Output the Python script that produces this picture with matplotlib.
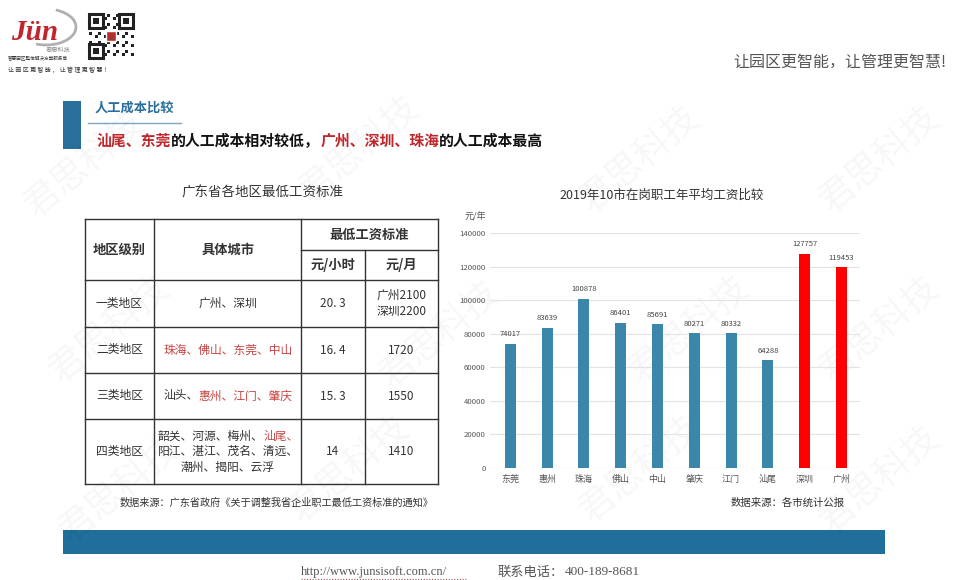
import matplotlib.pyplot as plt
from matplotlib.patches import Rectangle, Arc

plt.rcParams['font.family'] = ['Noto Sans CJK SC', 'DejaVu Sans']

# bar chart data
cities = ['东莞', '惠州', '珠海', '佛山', '中山', '肇庆', '江门', '汕尾', '深圳', '广州']
wages = [74017, 83639, 100878, 86401, 85691, 80271, 80332, 64288, 127757, 119453]
top_cities = ['深圳', '广州']

# table data
levels = ['一类地区', '二类地区', '三类地区', '四类地区']
level_cities = [['广州', '深圳'],
                ['珠海', '佛山', '东莞', '中山'],
                ['汕头', '惠州', '江门', '肇庆'],
                ['韶关', '河源', '梅州', '汕尾', '阳江', '湛江', '茂名', '清远', '潮州', '揭阳', '云浮']]
highlight = {'珠海', '佛山', '东莞', '中山', '惠州', '江门', '肇庆', '汕尾'}
hourly = ['20. 3', '16. 4', '15. 3', '14']
monthly = ['广州2100\n深圳2200', '1720', '1550', '1410']

RED = '#c0272d'
TRED = '#c94444'
BLUE = '#2a6f9c'
TXT = '#333333'

fig = plt.figure(figsize=(9.58, 5.8), dpi=100)
ax0 = fig.add_axes([0, 0, 1, 1])
ax0.set_xlim(0, 958)
ax0.set_ylim(580, 0)
ax0.axis('off')
renderer = fig.canvas.get_renderer()


def text_width(t, size, weight):
    # advance width: measure with a full-width box char after it
    a = ax0.text(0, 0, t + '口', fontsize=size, weight=weight)
    b = ax0.text(0, 0, '口', fontsize=size, weight=weight)
    w = a.get_window_extent(renderer).width - b.get_window_extent(renderer).width
    a.remove()
    b.remove()
    return w


def seg_text(x, y, parts, size, weight='normal', ha='left'):
    # merge neighbours of the same colour, then draw piece by piece
    merged = []
    for t, c in parts:
        if merged and merged[-1][1] == c:
            merged[-1] = (merged[-1][0] + t, c)
        else:
            merged.append((t, c))
    widths = [text_width(t, size, weight) for t, _ in merged]
    if ha == 'center':
        x -= sum(widths) / 2
    for (t, c), w in zip(merged, widths):
        ax0.text(x, y, t, color=c, fontsize=size, weight=weight, va='center', ha='left')
        x += w


# watermarks
for wx, wy in [(85, 165), (360, 150), (640, 160), (880, 160),
               (110, 330), (440, 335), (690, 330), (880, 330),
               (120, 490), (350, 470), (640, 470), (880, 480)]:
    ax0.text(wx, wy, '君思科技', fontsize=26, color='#000000', alpha=0.035,
             rotation=40, ha='center', va='center')

# logo
ax0.add_patch(Arc((46, 27), 60, 36, theta1=-60, theta2=120, color='#b0b0b0', lw=2))
ax0.text(11, 40, 'Jün', fontsize=21, color=RED, family='Liberation Serif',
         weight='bold', style='italic', va='baseline')
ax0.text(58, 50, '君思科技', fontsize=4.5, color='#888888', ha='center', va='center')
ax0.text(8, 58, '智慧园区整体解决方案服务商', fontsize=3.3, color='#333333', va='center')
ax0.text(8, 70, '让 园 区 更 智 能 ， 让 管 理 更 智 慧 ！', fontsize=4.3, color='#333333', va='center')
# qr code
ax0.add_patch(Rectangle((88, 13), 46, 46, fc='white', ec='none'))
n = 15
for i in range(n):
    for j in range(n):
        if (i * 7 + j * 11 + i * j) % 3 == 0:
            ax0.add_patch(Rectangle((89 + i * 3, 14 + j * 3), 3, 3, fc='#222222', ec='none'))
for fx, fy in [(89, 14), (119, 14), (89, 44)]:
    ax0.add_patch(Rectangle((fx, fy), 14, 14, fc='white', ec='#222222', lw=2.2))
    ax0.add_patch(Rectangle((fx + 4, fy + 4), 6, 6, fc='#222222', ec='none'))
ax0.add_patch(Rectangle((106, 31), 10, 10, fc='#b03030', ec='white', lw=1))

ax0.text(946, 62, '让园区更智能，让管理更智慧!', fontsize=11.5, color='#555555',
         ha='right', va='center')

# section header
ax0.add_patch(Rectangle((63, 101), 18, 48, fc=BLUE, ec='none'))
ax0.text(95, 108, '人工成本比较', fontsize=9.5, color=BLUE, weight='bold', va='center')
ax0.plot([88, 181], [123, 123], color='#7fa8c6', lw=1)
seg_text(97, 141, [('汕尾、东莞', RED), ('的人工成本相对较低，', '#111111'),
                   ('广州、深圳、珠海', RED), ('的人工成本最高', '#111111')],
         10.7, weight='bold')

# table
ax0.text(262, 193, '广东省各地区最低工资标准', fontsize=9.7, color=TXT, ha='center', va='center')
rows = [280, 327, 373, 419, 484]
lc = '#333333'
ax0.plot([85, 438], [219, 219], color=lc, lw=1)
for r in rows:
    ax0.plot([85, 438], [r, r], color=lc, lw=1)
ax0.plot([301, 438], [250, 250], color=lc, lw=1)
for c in [85, 154, 301, 438]:
    ax0.plot([c, c], [219, 484], color=lc, lw=1)
ax0.plot([365, 365], [250, 484], color=lc, lw=1)

ax0.text(119.5, 250, '地区级别', fontsize=9.5, weight='bold', color=TXT, ha='center', va='center')
ax0.text(228, 250, '具体城市', fontsize=9.5, weight='bold', color=TXT, ha='center', va='center')
ax0.text(369.5, 234.5, '最低工资标准', fontsize=9.5, weight='bold', color=TXT, ha='center', va='center')
ax0.text(333, 265, '元/小时', fontsize=9.5, weight='bold', color=TXT, ha='center', va='center')
ax0.text(401.5, 265, '元/月', fontsize=9.5, weight='bold', color=TXT, ha='center', va='center')

for k in range(4):
    yc = (rows[k] + rows[k + 1]) / 2
    ax0.text(119.5, yc, levels[k], fontsize=8.5, color=TXT, ha='center', va='center')
    ax0.text(333, yc, hourly[k], fontsize=8.5, color=TXT, ha='center', va='center')
    ax0.text(401.5, yc, monthly[k], fontsize=8.5, color=TXT, ha='center', va='center',
             linespacing=1.3)
    names = level_cities[k]
    chunks = [names[i:i + 4] for i in range(0, len(names), 4)]
    for li, chunk in enumerate(chunks):
        parts = []
        for ci, name in enumerate(chunk):
            col = TRED if name in highlight else TXT
            last = (li == len(chunks) - 1 and ci == len(chunk) - 1)
            parts.append((name if last else name + '、', col))
        ly = yc + (li - (len(chunks) - 1) / 2) * 15.5
        seg_text(228, ly, parts, 8.5, ha='center')

ax0.text(120, 503, '数据来源：广东省政府《关于调整我省企业职工最低工资标准的通知》',
         fontsize=7.3, color=TXT, va='center')

# bottom band and footer
ax0.add_patch(Rectangle((63, 530), 822, 24, fc='#1f6e9b', ec='none'))
ax0.text(301, 572, 'http://www.junsisoft.com.cn/', fontsize=9, color='#555555',
         family='Liberation Serif', va='center')
ax0.plot([301, 467], [579, 579], color='#a05050', lw=0.8, ls=(0, (1, 1.5)))
ax0.text(497, 572, '联系电话：', fontsize=9.5, color='#555555', va='center')
ax0.text(565, 572, '400-189-8681', fontsize=9.5, color='#555555',
         family='Liberation Serif', va='center')

# bar chart
ax = fig.add_axes([490 / 958, 1 - 468 / 580, 370 / 958, (468 - 233) / 580])
ax.patch.set_alpha(0)
colors = ['#ff0000' if c in top_cities else '#3b86ab' for c in cities]
bars = ax.bar(range(len(cities)), wages, width=0.3, color=colors, zorder=3)
for b, v in zip(bars, wages):
    ax.annotate(str(v), (b.get_x() + b.get_width() / 2, v), xytext=(0, 4),
                textcoords='offset points', ha='center', va='bottom',
                fontsize=5.5, color='#444444')
ax.set_xlim(-0.55, 9.5)
ax.set_ylim(0, 140000)
ax.set_yticks(range(0, 140001, 20000))
ax.set_xticks(range(len(cities)))
ax.set_xticklabels(cities)
ax.tick_params(axis='both', length=0, labelsize=5.6, labelcolor='#555555')
ax.tick_params(axis='x', pad=5, labelsize=6.5)
ax.tick_params(axis='y', pad=3)
ax.grid(axis='y', color='#e3e3e3', lw=0.8, zorder=0)
for s in ax.spines.values():
    s.set_visible(False)
ax.axhline(0, color='#d0d0d0', lw=0.8, zorder=2)

ax0.text(662, 195, '2019年10市在岗职工年平均工资比较', fontsize=9, color=TXT,
         ha='center', va='center')
ax0.text(465, 217, '元/年', fontsize=6.5, color='#555555', va='center')
ax0.text(845, 503, '数据来源：各市统计公报', fontsize=7.5, color=TXT, ha='right', va='center')

fig.savefig('out.png', dpi=100)
